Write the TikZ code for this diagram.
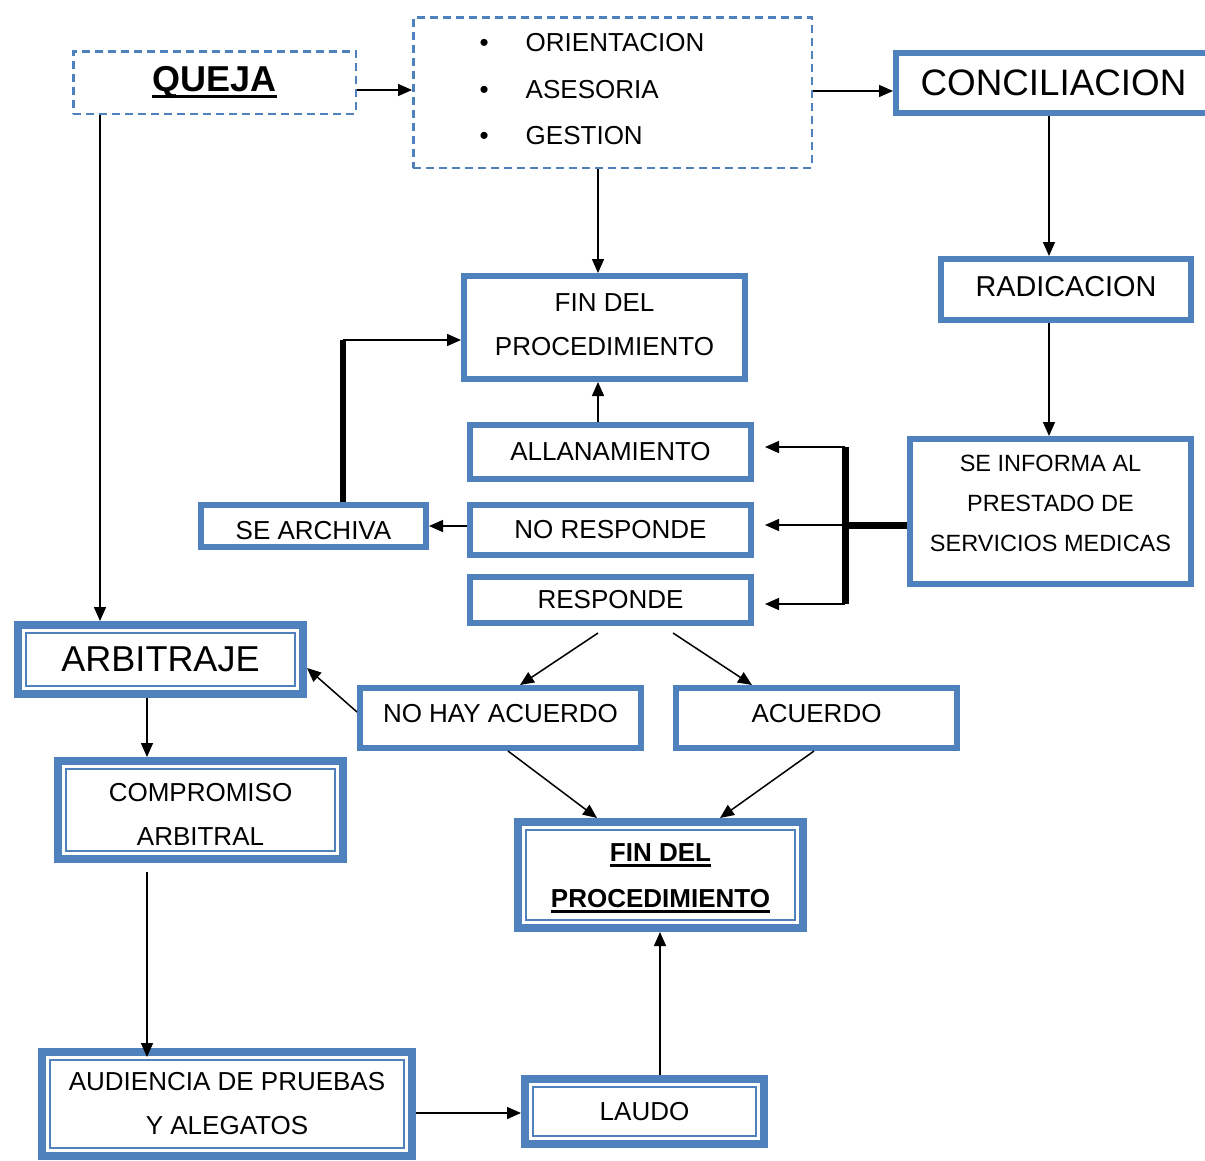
\documentclass[tikz,border=0pt]{standalone}
\usepackage{fontspec}
\setmainfont{Liberation Sans}
\usetikzlibrary{arrows.meta}
\definecolor{ofblue}{RGB}{79,129,189}
\newcommand{\thickul}[1]{\setbox0\hbox{#1}\rlap{\raisebox{-6pt}{\rule{\wd0}{3pt}}}\box0}

\begin{document}
\begin{tikzpicture}[x=1pt,y=-1pt,
  box/.style={draw=ofblue,line width=6pt,inner sep=0pt,align=center,font=\fontsize{26}{44}\selectfont},
  dbox/.style={box,line width=8pt},
  dashbox/.style={draw=ofblue,line width=2.5pt,dash pattern=on 8pt off 5pt,inner sep=0pt,align=center},
  arr/.style={-{Triangle[length=14pt,width=12pt]},line width=1.5pt},
  bar/.style={line width=7pt}]
   \useasboundingbox (0,0) rectangle (1205,1160);
   \clip (0,0) rectangle (1205,1160);
   % top row
   \node[dashbox,minimum width=282.5,minimum height=62.5,font=\fontsize{36}{40}\selectfont\bfseries] (queja) at (214.5,82.5) {\thickul{QUEJA}};
   \node[dashbox,minimum width=398.5,minimum height=150.5,text height=32.5pt,text depth=114pt,font=\fontsize{26}{46.5}\selectfont] (bul) at (612.5,92.5)
     {\begin{tabular}[t]{@{}l@{\hspace{37pt}}l@{\hspace{41pt}}}
      \textbullet & ORIENTACION\\ \textbullet & ASESORIA\\ \textbullet & GESTION
      \end{tabular}};
   \node[box,minimum width=315,minimum height=60,font=\fontsize{36.8}{40}\selectfont] (conc) at (1053.5,83) {CONCILIACION};
   % conciliacion branch
   \node[box,minimum width=281,minimum height=103,text depth=6pt] (fin1) at (604.5,327.5) {FIN DEL\\PROCEDIMIENTO};
   \node[box,minimum width=250,minimum height=61,text depth=6pt,font=\fontsize{28.8}{40}\selectfont] (rad) at (1066,289.5) {RADICACION};
   \node[box,minimum width=281,minimum height=145,text depth=16pt,font=\fontsize{23.5}{40}\selectfont] (info) at (1050.5,511.5) {SE INFORMA AL\\PRESTADO DE\\SERVICIOS MEDICAS};
   \node[box,minimum width=281,minimum height=54] (allan) at (610.5,452) {ALLANAMIENTO};
   \node[box,minimum width=281,minimum height=50] (nores) at (610.5,530) {NO RESPONDE};
   \node[box,minimum width=281,minimum height=46] (resp) at (610.5,600) {RESPONDE};
   \node[box,minimum width=225,minimum height=42,text height=27pt] (archiva) at (313.5,526) {SE ARCHIVA};
   \node[box,minimum width=281,minimum height=60,text depth=10pt] (nohay) at (500.5,718) {NO HAY ACUERDO};
   \node[box,minimum width=281,minimum height=60,text depth=10pt] (acuerdo) at (816.5,718) {ACUERDO};
   % arbitraje branch
   \node[dbox,minimum width=285,minimum height=69,font=\fontsize{36}{40}\selectfont] (arb) at (160.5,659.5) {ARBITRAJE};
   \node[dbox,minimum width=285,minimum height=98,text height=71pt,text depth=0pt] (comp) at (200.5,810) {COMPROMISO\\ARBITRAL};
   \node[dbox,minimum width=285,minimum height=106,text height=70pt,text depth=6pt,font=\fontsize{26}{46}\selectfont\bfseries] (fin2) at (660.5,875) {\thickul{FIN DEL}\\\thickul{PROCEDIMIENTO}};
   \node[dbox,minimum width=370,minimum height=104] (aud) at (227,1104) {AUDIENCIA DE PRUEBAS\\Y ALEGATOS};
   \node[dbox,minimum width=239,minimum height=65] (laudo) at (644.5,1111.5) {LAUDO};
   \foreach \n in {arb,comp,fin2,aud,laudo}
     \draw[ofblue,line width=1.5pt] ([shift={(12,12)}]\n.north west) rectangle ([shift={(-12,-12)}]\n.south east);

   % connectors
   \draw[arr] ([yshift=-7.5pt]queja.east) -- ([yshift=-7.5pt]queja.east -| bul.west);
   \draw[arr] ([yshift=1.5pt]bul.east) -- ([yshift=1.5pt]bul.east -| conc.west);
   \draw[arr] ([xshift=-14.5pt]bul.south) -- ([xshift=-14.5pt]bul.south |- fin1.north);
   \draw[arr] ([xshift=-4.5pt]conc.south) -- ([xshift=-4.5pt]conc.south |- rad.north);
   \draw[arr] ([xshift=-17pt]rad.south) -- ([xshift=-17pt]rad.south |- info.north);
   \draw[arr] ([xshift=-12.5pt]allan.north) -- ([xshift=-12.5pt]allan.north |- fin1.south);
   \draw[arr] ([xshift=-114.5pt]queja.south) -- ([xshift=-114.5pt]queja.south |- arb.north);

   \coordinate (bt) at (845,447);
   \coordinate (bm) at (845,525);
   \coordinate (bb) at (845,604);
   \draw[bar] (bm -| info.west) -- (bm);
   \draw[bar] (bt) -- (bb);
   \foreach \c/\n in {bt/allan,bm/nores,bb/resp}
     \draw[arr,shorten >=11pt] (\c) -- (\c -| \n.east);

   \coordinate (ac) at (343,340);
   \draw[bar,line width=6pt] (ac |- archiva.north) -- (ac);
   \draw[arr] (ac) -- (ac -| fin1.west);
   \draw[arr] (nores.west |- archiva.east) -- (archiva.east);

   \draw[arr] ([xshift=-12.5pt,yshift=-7pt]resp.south) -- ([xshift=19.5pt]nohay.north);
   \draw[arr] ([xshift=62.5pt,yshift=-7pt]resp.south) -- ([xshift=-64.5pt]acuerdo.north);
   \draw[arr] ([yshift=6pt]nohay.west) -- ([yshift=-8.5pt]arb.east);
   \draw[arr] ([xshift=-13.5pt]arb.south) -- ([xshift=-13.5pt]arb.south |- comp.north);
   \draw[arr] ([xshift=7.5pt]nohay.south) -- ([xshift=-63.5pt]fin2.north);
   \draw[arr] ([xshift=-2.5pt]acuerdo.south) -- ([xshift=59.5pt]fin2.north);
   \draw[arr] ([xshift=-53.5pt,yshift=-9pt]comp.south) -- ([xshift=-53.5pt,yshift=-9pt]comp.south |- aud.north);
   \draw[arr] ([yshift=-9pt]aud.east) -- ([yshift=-9pt]aud.east -| laudo.west);
   \draw[arr] ([xshift=15.5pt]laudo.north) -- ([xshift=15.5pt]laudo.north |- fin2.south);
\end{tikzpicture}
\end{document}
